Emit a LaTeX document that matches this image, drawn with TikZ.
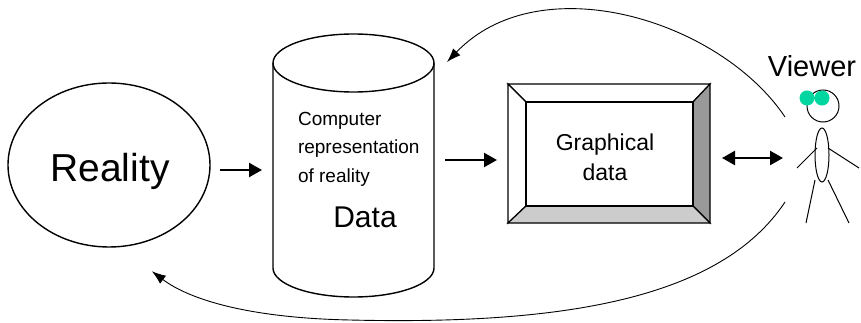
\documentclass[tikz,border=0pt]{standalone}
\usepackage{fontspec}
\setmainfont{Liberation Sans}
\usetikzlibrary{arrows.meta,shapes.geometric}
\definecolor{bevdark}{gray}{0.6}
\definecolor{bevlight}{gray}{0.8}
\definecolor{eyecol}{RGB}{0,214,160}

\begin{document}
\begin{tikzpicture}[x=1pt,y=-1pt,line width=1.4pt,
  fat/.style={line width=2.4pt,-{Triangle[length=13pt,width=14pt]}},
  back/.style={line width=0.9pt,-{Latex[length=14pt,width=10pt]}},
  ghost/.style={inner sep=0pt,outer sep=0pt}]
 \useasboundingbox (0,0) rectangle (861,323);
 % reality
 \node[draw,ellipse,ghost,minimum width=202,minimum height=164] (reality) at (109,165) {};
 \node[font=\fontsize{39}{40}\selectfont] (realitytxt) at (110,171) {Reality};
 % data store (cylinder)
 \draw (273,63) -- (273,268) arc (180:0:80.5 and 29) -- (434,63);
 \draw (353.5,63) ellipse (80.5 and 29);
 \node[ghost,minimum width=161,minimum height=200] (db) at (353.5,170) {};
 \node[anchor=west,align=left,font=\fontsize{19}{28.5}\selectfont] (dbtxt) at (294,149) {Computer\\representation\\of reality};
 \node[font=\fontsize{30}{32}\selectfont] (datatxt) at (365,217) {Data};
 % screen with bevel
 \begin{scope}[line width=1.2pt]
  \filldraw[fill=white] (508,84) -- (710,84) -- (693,102) -- (526,102) -- cycle;
  \filldraw[fill=white] (508,84) -- (526,102) -- (526,206) -- (508,223) -- cycle;
  \filldraw[fill=bevdark] (710,84) -- (710,223) -- (693,206) -- (693,102) -- cycle;
  \filldraw[fill=bevlight] (508,223) -- (710,223) -- (693,206) -- (526,206) -- cycle;
  \draw (526,102) rectangle (693,206);
 \end{scope}
 \node[ghost,minimum width=202,minimum height=139] (screen) at (609,159) {};
 \node[align=center,font=\fontsize{23}{30}\selectfont] (screentxt) at (605,157) {Graphical\\data};
 % viewer
 \node[font=\fontsize{29}{30}\selectfont] (viewer) at (812,66) {Viewer};
 \begin{scope}[line width=1pt]
  \draw (823,106) circle (16);
  \filldraw[fill=eyecol,draw=eyecol] (807,98) circle (7) (822,98) circle (7);
  \draw (822,155) ellipse (7 and 27);
  \draw (797,168) -- (817,148) (828,148) -- (859,168);
  \draw (815,180) -- (806,223) (828,180) -- (849,223);
 \end{scope}
 \node[ghost,minimum width=60,minimum height=140] (person) at (823,160) {};
 \coordinate (gazetop) at (785,117);
 \coordinate (gazebot) at (785,202);
 % flow
 \draw[fat] ([shift={(10,5)}]reality.east) -- ([shift={(-11,0)}]db.west);
 \draw[fat] ([shift={(11,-10)}]db.east) -- ([shift={(-11,1)}]screen.west);
 \draw[fat,{Triangle[length=13pt,width=14pt]}-{Triangle[length=13pt,width=14pt]}]
   ([shift={(12,-1)}]screen.east) -- ([shift={(-10,-2)}]person.west);
 \draw[back] (gazetop) .. controls (720,20) and (540,-35) .. ([shift={(13,-8)}]db.north east);
 \draw[back] (gazebot) .. controls (720,300) and (560,325) .. (350,320)
   .. controls (250,318) and (190,300) .. ([shift={(0,32)}]reality.-60);
\end{tikzpicture}
\end{document}
